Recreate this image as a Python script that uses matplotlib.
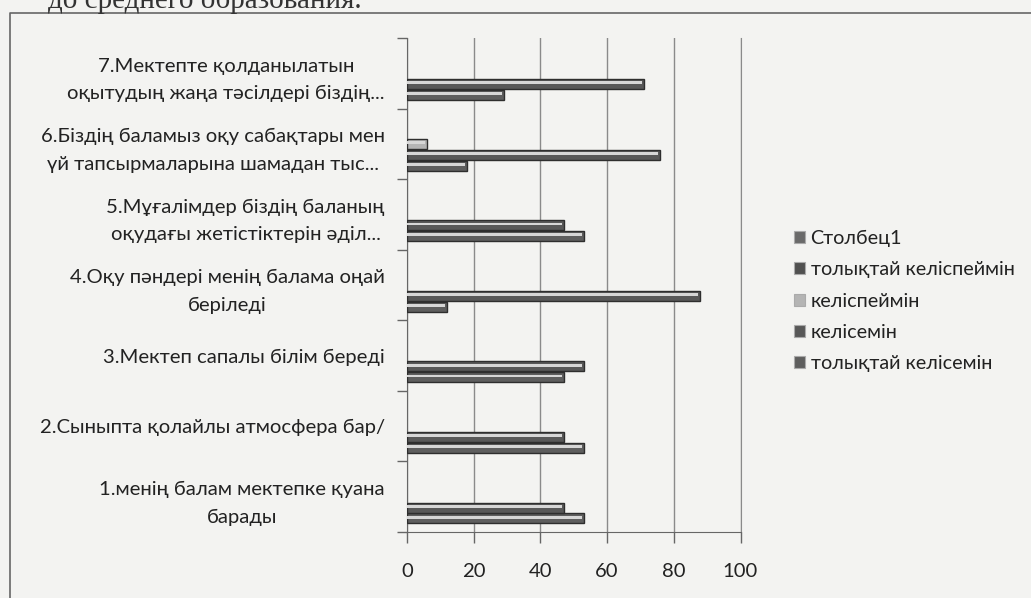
import matplotlib
matplotlib.use("Agg")
import matplotlib.pyplot as plt
import numpy as np
from matplotlib.patches import Rectangle
from matplotlib.lines import Line2D

plt.rcParams['font.family'] = ['Lato', 'Noto Sans', 'DejaVu Sans']

# categories, bottom to top (as Excel draws them)
categories = [
    "1.менің балам мектепке қуана\nбарады",
    "2.Сыныпта қолайлы атмосфера бар/",
    "3.Мектеп сапалы білім береді",
    "4.Оқу пәндері менің балама оңай\nберіледі",
    "5.Мұғалімдер біздің баланың\nоқудағы жетістіктерін әділ...",
    "6.Біздің баламыз оқу сабақтары мен\nүй тапсырмаларына шамадан тыс...",
    "7.Мектепте қолданылатын\nоқытудың жаңа тәсілдері біздің...",
]

# series in Excel order (series 1 drawn lowest in each group)
series_names = ["толықтай келісемін", "келісемін", "келіспеймін",
                "толықтай келіспеймін", "Столбец1"]
fully_agree = [53, 53, 47, 12, 53, 18, 29]
agree = [47, 47, 53, 88, 47, 76, 71]
disagree = [0, 0, 0, 0, 0, 6, 0]
fully_disagree = [0, 0, 0, 0, 0, 0, 0]
column1 = [0, 0, 0, 0, 0, 0, 0]
series_values = [fully_agree, agree, disagree, fully_disagree, column1]
series_colors = ["#5e5e5e", "#585858", "#b4b4b4", "#505050", "#6a6a6a"]

x_ticks = [0, 20, 40, 60, 80, 100]

paper = "#f3f3f1"
fs = 14.6
fig = plt.figure(figsize=(10.31, 5.98), dpi=100, facecolor=paper)
ax = fig.add_axes([407 / 1031, 1 - 532 / 598, (740.5 - 407) / 1031, (532 - 38) / 598])
ax.set_facecolor(paper)

n = len(series_values)
w = 1 / 6.5  # excel gap width 150%
ypos = np.arange(len(categories))
for i, (vals, col) in enumerate(zip(series_values, series_colors)):
    off = (i - (n - 1) / 2) * w
    vals = np.array(vals, dtype=float)
    m = vals > 0
    ax.barh(ypos[m] + off, vals[m], height=w * 0.92, color=col,
            edgecolor="#2e2e2e", linewidth=1.0, zorder=3)
    # light stripe to mimic the bevelled look
    ax.barh(ypos[m] + off + w * 0.12, vals[m] - 0.6, height=w * 0.26,
            color="#d6d6d6", linewidth=0, zorder=4)

ax.set_xlim(0, 100)
ax.set_ylim(-0.5, len(categories) - 0.5)
ax.set_xticks(x_ticks)
ax.set_xticklabels([str(t) for t in x_ticks], fontsize=fs, color="#222222")
ax.tick_params(axis="x", length=8, width=1, color="#666666", pad=14)
ax.set_yticks(ypos)
ax.set_yticklabels(categories, fontsize=fs, color="#222222",
                   multialignment="center", linespacing=1.75)
ax.tick_params(axis="y", which="major", length=0, pad=16)
ax.set_yticks(np.arange(-0.5, len(categories)), minor=True)
ax.tick_params(axis="y", which="minor", length=7, width=1, color="#666666")

ax.grid(axis="x", color="#8a8a8a", linewidth=1, zorder=0)
ax.spines["top"].set_visible(False)
ax.spines["right"].set_color("#8a8a8a")
ax.spines["left"].set_color("#666666")
ax.spines["bottom"].set_color("#666666")

# legend (reverse order, as in Excel)
handles = [Rectangle((0, 0), 1, 1, facecolor=c, edgecolor="#aaaaaa", linewidth=0.8)
           for c in series_colors][::-1]
leg = fig.legend(handles, series_names[::-1], loc="center left",
                 bbox_to_anchor=(776 / 1031, 1 - 301 / 598), frameon=False,
                 fontsize=14.2, handlelength=0.55, handleheight=0.55,
                 handletextpad=0.3, labelspacing=0.72)
for t in leg.get_texts():
    t.set_color("#222222")

# chart border and the cut-off line of page text above it
fig.add_artist(Line2D([10 / 1031, 10 / 1031, 1], [0, 1 - 13 / 598, 1 - 13 / 598],
                      color="#666666", linewidth=1.2))
fig.text(48 / 1031, 1 - 8 / 598, "до среднего образования.", fontsize=21,
         family=["Liberation Serif", "DejaVu Serif"], color="#333333",
         va="baseline")

fig.savefig("out.png", dpi=100, facecolor=paper)
